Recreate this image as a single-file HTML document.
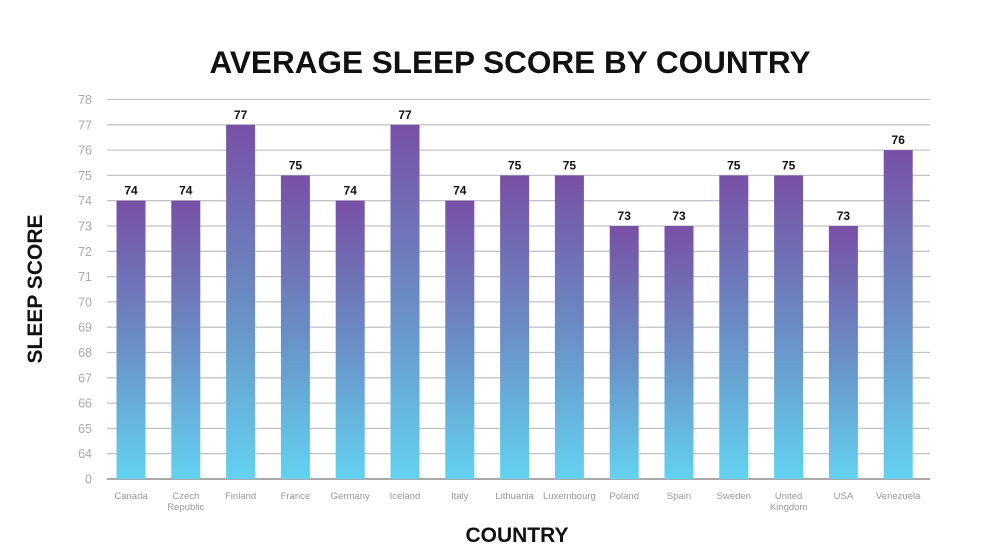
<!DOCTYPE html>
<html><head><meta charset="utf-8"><style>
body{margin:0;background:#fff;width:1000px;height:555px;overflow:hidden;font-family:"Liberation Sans",sans-serif}
</style></head><body>
<svg id="chart" width="1000" height="555" xmlns="http://www.w3.org/2000/svg">
<defs><linearGradient id="bg" x1="0" y1="0" x2="0" y2="1">
<stop offset="0" stop-color="#7850a6"/><stop offset="0.5" stop-color="#6a8cc4"/><stop offset="1" stop-color="#63d2f0"/></linearGradient></defs>
<text x="510" y="73" text-anchor="middle" font-size="31.5" font-weight="bold" fill="#111">AVERAGE SLEEP SCORE BY COUNTRY</text>
<text transform="translate(42,289) rotate(-90)" text-anchor="middle" font-size="21" font-weight="bold" fill="#111">SLEEP SCORE</text>
<text x="517" y="542" text-anchor="middle" font-size="21" font-weight="bold" fill="#111">COUNTRY</text>
<g id="grid"></g><g id="bars"></g><g id="xl"></g>
</svg>
<script>
const categories=["Canada","Czech|Republic","Finland","France","Germany","Iceland","Italy","Lithuania","Luxembourg","Poland","Spain","Sweden","United|Kingdom","USA","Venezuela"];
const values=[74,74,77,75,74,77,74,75,75,73,73,75,75,73,76];
const yTicks=[0,64,65,66,67,68,69,70,71,72,73,74,75,76,77,78];
const NS="http://www.w3.org/2000/svg";
const y0=479,step=25.3,left=107,right=930,x0=131,dx=54.8,bw=29;
function yScale(v){return v<64?y0:y0-(v-63)*step;}
function xScale(i){return x0+i*dx;}
function mk(t,a,p){const e=document.createElementNS(NS,t);for(const k in a)e.setAttribute(k,a[k]);p.appendChild(e);return e;}
const g=document.getElementById('grid'),b=document.getElementById('bars'),xl=document.getElementById('xl');
yTicks.forEach(v=>{const y=yScale(v);
const l=mk('line',{x1:left,x2:right,y1:y,y2:y,stroke:v===0?'#aaa':'#c4c4c4','stroke-width':v===0?2:1.3},g);


const t=mk('text',{x:92,y:y+4.5,'text-anchor':'end','font-size':12.5,fill:'#aaa'},g);t.textContent=v;

});
categories.forEach((c,i)=>{const v=values[i],x=xScale(i),y=yScale(v);
const r=mk('rect',{x:x-bw/2,y:y,width:bw,height:y0-y,fill:'url(#bg)'},b);


const t=mk('text',{x:x,y:y-6,'text-anchor':'middle','font-size':12,'font-weight':'bold',fill:'#111'},b);t.textContent=v;


c.split('|').forEach((s,j)=>{const tt=mk('text',{x:x,y:499+j*11,'text-anchor':'middle','font-size':9.5,fill:'#999'},xl);tt.textContent=s;

});});
</script>
</body></html>
